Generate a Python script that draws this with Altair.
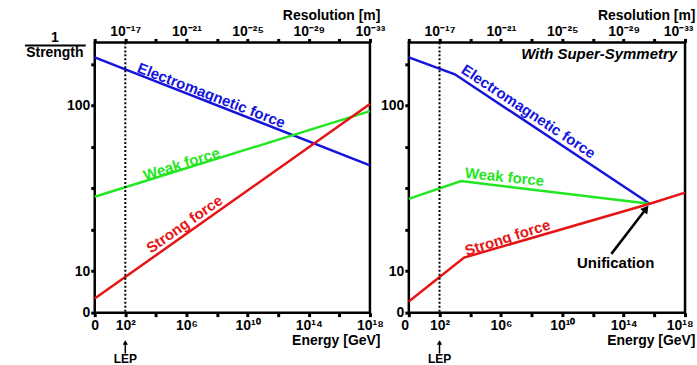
import altair as alt
import pandas as pd

FONT = "Liberation Sans"

# ---------------- axis ticks & labels ----------------
energy_ticks = [0, 2, 4, 6, 8, 10, 12, 14, 16, 18]          # log10(E / GeV)
energy_labels = ["0", "10²", "", "10⁶", "", "10¹⁰", "", "10¹⁴", "", "10¹⁸"]
resolution_labels = ["", "10⁻¹⁷", "", "10⁻²¹", "", "10⁻²⁵", "", "10⁻²⁹", "", "10⁻³³"]
strength_ticks = [0, 10, 20, 30, 40, 50, 60]
strength_labels = ["0", "10", "", "", "", "100", ""]

forces = ["Electromagnetic force", "Weak force", "Strong force"]
force_colors = ["#1414dc", "#22e622", "#e61414"]

# ---------------- left panel: Standard Model ----------------
sm_em_x = [0, 18]
sm_em_y = [61.7, 35.6]
sm_weak_x = [0, 18]
sm_weak_y = [28.0, 48.7]
sm_strong_x = [0, 18]
sm_strong_y = [3.4, 50.4]

sm_label_x = [7.63, 5.68, 5.87]
sm_label_y = [52.5, 35.9, 21.4]
sm_label_angle = [21, 342.5, 325]

# ---------------- right panel: with Super-Symmetry ----------------
susy_em_x = [0, 3.0, 15.7]
susy_em_y = [61.7, 57.6, 26.3]
susy_weak_x = [0, 3.4, 15.7]
susy_weak_y = [27.5, 31.8, 26.3]
susy_strong_x = [0, 3.6, 15.7, 18]
susy_strong_y = [2.7, 13.3, 26.3, 29.0]

susy_label_x = [7.80, 6.24, 6.43]
susy_label_y = [48.6, 32.8, 18.1]
susy_label_angle = [33.5, 6, 342.3]

lep_energy = 2
unif_text_x, unif_text_y = 13.48, 12.0
unif_arrow_x = [13.2, 15.46]
unif_arrow_y = [14.2, 25.1]

H = 271
W_LEFT = 276
W_RIGHT = 277


def expr_map(keys, labels):
    e = "''"
    for k, l in reversed(list(zip(keys, labels))):
        e = f"datum.value == {k} ? '{l}' : ({e})"
    return e


xscale = alt.Scale(domain=[0, 18], nice=False, zero=False)
yscale = alt.Scale(domain=[0, 65.3], nice=False, zero=False)

common_axis = dict(
    domain=False, grid=False, tickColor="black", tickWidth=3, tickSize=4,
    labelFont=FONT, labelFontSize=14, labelFontWeight="bold", labelColor="black",
    labelOverlap=False,
    titleFont=FONT, titleFontSize=14, titleFontWeight="bold", titleColor="black",
)


def bottom_axis(w, flush):
    return alt.Axis(orient="bottom", values=energy_ticks,
                    labelExpr=expr_map(energy_ticks, energy_labels),
                    labelBaseline="alphabetic", labelPadding=13,
                    labelFlush=flush, labelFlushOffset=8 if flush else 0,
                    title="Energy [GeV]", titleX=w + 10, titleY=32,
                    titleAlign="right", titleBaseline="alphabetic", **common_axis)


def top_axis(w, flush):
    return alt.Axis(orient="top", values=energy_ticks,
                    labelExpr=expr_map(energy_ticks, resolution_labels),
                    labelBaseline="alphabetic", labelPadding=3,
                    labelFlush=flush, labelFlushOffset=8 if flush else 0,
                    title="Resolution [m]", titleX=w + 10, titleY=-23,
                    titleAlign="right", titleBaseline="alphabetic", **common_axis)


y_axis = alt.Axis(orient="left", values=strength_ticks,
                  labelExpr=expr_map(strength_ticks, strength_labels),
                  labelPadding=1, labelFlush=False, title=None, **common_axis)


def lines_df(series):
    rows = []
    for name, xs, ys in series:
        for i, (xv, yv) in enumerate(zip(xs, ys)):
            rows.append({"force": name, "e": xv, "v": yv, "i": i})
    return pd.DataFrame(rows)


def panel(series, lab_x, lab_y, lab_ang, w, left):
    df = lines_df(series)
    flush = not left
    xa = bottom_axis(w, flush)
    lines = alt.Chart(df).mark_line(strokeWidth=2.5).encode(
        x=alt.X("e:Q", scale=xscale, axis=xa),
        y=alt.Y("v:Q", scale=yscale, axis=y_axis),
        color=alt.Color("force:N", scale=alt.Scale(domain=forces, range=force_colors), legend=None),
        detail="force:N",
        order="i:Q",
    )
    layers = [lines]
    for name, col, lx, ly, la in zip(forces, force_colors, lab_x, lab_y, lab_ang):
        layers.append(
            alt.Chart().mark_text(font=FONT, fontSize=15, fontWeight="bold", color=col,
                                  angle=la, align="center", baseline="middle").encode(
                x=alt.XDatum(lx, scale=xscale, axis=xa),
                y=alt.YDatum(ly, scale=yscale, axis=y_axis),
                text=alt.value(name),
            )
        )
    # LEP arrow and label below the energy axis
    layers.append(alt.Chart().mark_rule(color="black", strokeWidth=1.5).encode(
        x=alt.XDatum(lep_energy, scale=xscale, axis=xa),
        y=alt.value(H + 29), y2=alt.value(H + 41)))
    layers.append(alt.Chart().mark_point(shape="triangle-up", filled=True, color="black",
                                         size=28, opacity=1).encode(
        x=alt.XDatum(lep_energy, scale=xscale, axis=xa), y=alt.value(H + 30)))
    layers.append(alt.Chart().mark_text(font=FONT, fontSize=12, fontWeight="bold",
                                        color="black", baseline="alphabetic").encode(
        x=alt.XDatum(lep_energy, scale=xscale, axis=xa), y=alt.value(H + 51),
        text=alt.value("LEP")))
    if left:
        layers.append(alt.Chart().mark_text(font=FONT, fontSize=14, fontWeight="bold",
                                            color="black", baseline="alphabetic").encode(
            x=alt.value(-40), y=alt.value(0), text=alt.value("1")))
        layers.append(alt.Chart().mark_text(font=FONT, fontSize=14, fontWeight="bold",
                                            color="black", baseline="alphabetic").encode(
            x=alt.value(-40), y=alt.value(15), text=alt.value("Strength")))
        layers.append(alt.Chart().mark_rule(color="black", strokeWidth=2).encode(
            x=alt.value(-70), x2=alt.value(-9), y=alt.value(3)))
    else:
        layers.append(alt.Chart().mark_text(font=FONT, fontSize=15, fontWeight="bold",
                                            fontStyle="italic", color="black",
                                            align="right", baseline="alphabetic").encode(
            x=alt.value(w - 8), y=alt.value(17), text=alt.value("With Super-Symmetry")))
        layers.append(alt.Chart().mark_rule(color="black", strokeWidth=2.5).encode(
            x=alt.XDatum(unif_arrow_x[0], scale=xscale, axis=xa),
            x2=alt.X2Datum(unif_arrow_x[1]),
            y=alt.YDatum(unif_arrow_y[0], scale=yscale, axis=y_axis),
            y2=alt.Y2Datum(unif_arrow_y[1])))
        layers.append(alt.Chart().mark_point(shape="triangle-up", filled=True, color="black",
                                             size=80, opacity=1, angle=38).encode(
            x=alt.XDatum(unif_arrow_x[1], scale=xscale, axis=xa),
            y=alt.YDatum(unif_arrow_y[1], scale=yscale, axis=y_axis)))
        layers.append(alt.Chart().mark_text(font=FONT, fontSize=15, fontWeight="bold",
                                            color="black", baseline="middle").encode(
            x=alt.XDatum(unif_text_x, scale=xscale, axis=xa),
            y=alt.YDatum(unif_text_y, scale=yscale, axis=y_axis),
            text=alt.value("Unification")))

    main = alt.layer(*layers)
    dotted = alt.Chart(pd.DataFrame({"e": [lep_energy]})).mark_rule(
        color="black", strokeWidth=2, strokeDash=[2, 2]).encode(
        x=alt.X("e:Q", scale=xscale, axis=top_axis(w, flush)))
    return alt.layer(main, dotted).resolve_axis(x="independent").properties(width=w, height=H)


left = panel([(forces[0], sm_em_x, sm_em_y), (forces[1], sm_weak_x, sm_weak_y),
              (forces[2], sm_strong_x, sm_strong_y)],
             sm_label_x, sm_label_y, sm_label_angle, W_LEFT, True)
right = panel([(forces[0], susy_em_x, susy_em_y), (forces[1], susy_weak_x, susy_weak_y),
               (forces[2], susy_strong_x, susy_strong_y)],
              susy_label_x, susy_label_y, susy_label_angle, W_RIGHT, False)

chart = alt.hconcat(left, right, spacing=39, bounds="flush").properties(
    padding={"left": 22, "top": 6, "right": 0, "bottom": 0},
    background="white",
).configure_view(stroke="black", strokeWidth=2.5)

chart.save("out.html", embed_options={"renderer": "svg", "actions": False})
